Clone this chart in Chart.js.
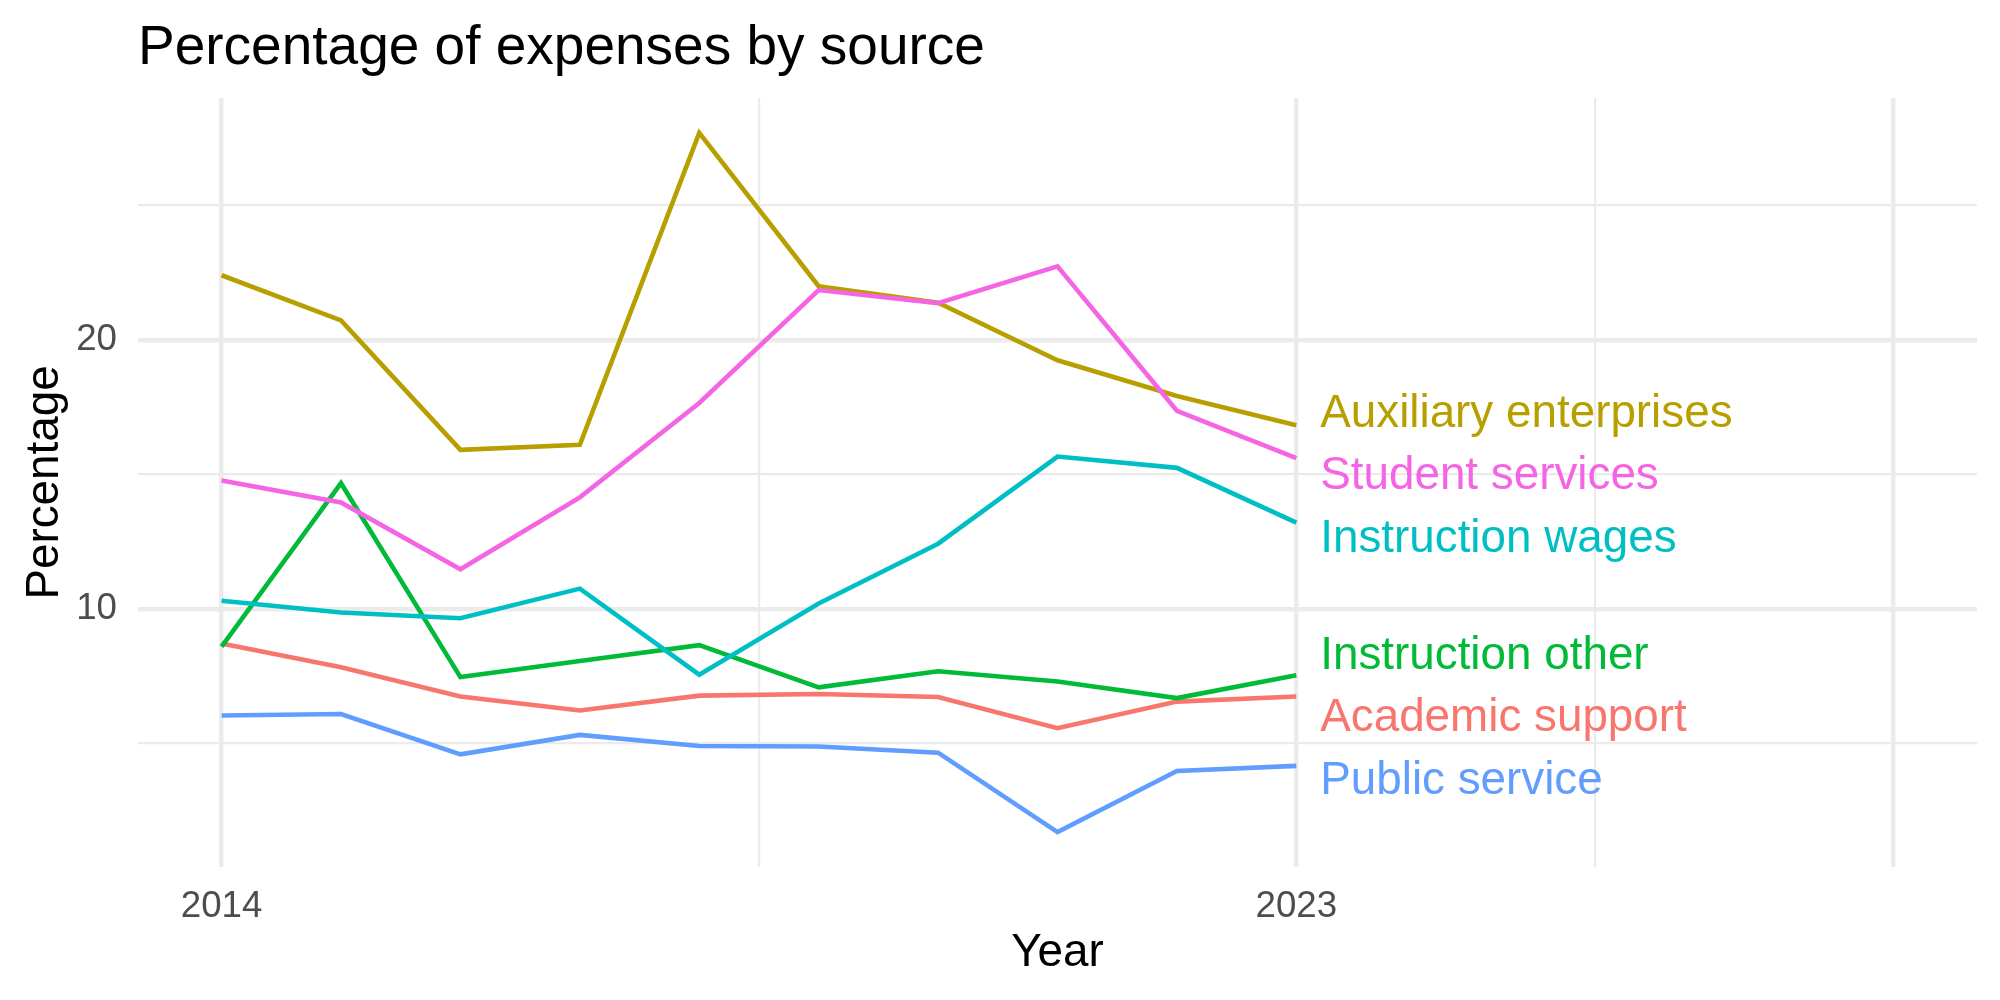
<!DOCTYPE html>
<html>
<head>
<meta charset="utf-8">
<script src="https://cdn.jsdelivr.net/npm/chart.js@4/dist/chart.umd.min.js"></script>
<style>
  html, body { margin: 0; padding: 0; background: #ffffff; }
  #wrap { width: 2000px; height: 1000px; }
</style>
</head>
<body>
<div id="wrap"><canvas id="c" width="2000" height="1000"></canvas></div>
<script>
// ---- data ----
const chartTitle = "Percentage of expenses by source";
const xTitle = "Year";
const yTitle = "Percentage";
const years = [2014, 2015, 2016, 2017, 2018, 2019, 2020, 2021, 2022, 2023];
const seriesNames = ["Academic support", "Auxiliary enterprises", "Instruction other", "Instruction wages", "Public service", "Student services"];
const seriesColors = ["#F8766D", "#B79F00", "#00BA38", "#00BFC4", "#619CFF", "#F564E3"];
const academicSupport      = [8.71, 7.83, 6.74, 6.22, 6.77, 6.83, 6.72, 5.56, 6.55, 6.74];
const auxiliaryEnterprises = [22.40, 20.72, 15.91, 16.10, 27.69, 21.99, 21.38, 19.24, 17.91, 16.82];
const instructionOther     = [8.59, 14.67, 7.46, 8.06, 8.65, 7.08, 7.68, 7.30, 6.68, 7.53];
const instructionWages     = [10.30, 9.86, 9.65, 10.75, 7.55, 10.20, 12.42, 15.66, 15.24, 13.20];
const publicService        = [6.03, 6.09, 4.59, 5.31, 4.90, 4.88, 4.65, 1.70, 3.97, 4.16];
const studentServices      = [14.77, 13.95, 11.47, 14.14, 17.65, 21.85, 21.36, 22.73, 17.36, 15.60];
const seriesValues = [academicSupport, auxiliaryEnterprises, instructionOther, instructionWages, publicService, studentServices];

// end-of-line label positions (data units, vertical centre of capitals)
const labelX = 2023.2;
const labelY = [6.06, 17.38, 8.38, 12.71, 3.71, 15.06];

// axis ticks
const xTickValues = [2014, 2018.5, 2023, 2025.5, 2028];
const xTickLabels = ["2014", "", "2023", "", ""];
const xMajor      = [true, false, true, false, true];
const yTickValues = [5, 10, 15, 20, 25];
const yTickLabels = ["", "10", "", "20", ""];
const yMajor      = [false, true, false, true, false];
const xMin = 2013.3, xMax = 2028.7;

// y limits with ggplot-like 5% expansion
const allVals = seriesValues.flat();
const dMin = Math.min(...allVals), dMax = Math.max(...allVals);
const yMin = dMin - 0.05 * (dMax - dMin);
const yMax = dMax + 0.05 * (dMax - dMin);

const FONT = '"Liberation Sans", Arial, Helvetica, sans-serif';
const GRID = '#EBEBEB';
const LABEL_SIZE = 45.8;

const datasets = seriesNames.map((name, i) => ({
  label: name,
  data: years.map((yr, j) => ({ x: yr, y: seriesValues[i][j] })),
  borderColor: seriesColors[i],
  backgroundColor: seriesColors[i],
  borderWidth: 4.6,
  pointRadius: 0,
  tension: 0,
  fill: false,
  order: seriesNames.length - i
}));

const textPlugin = {
  id: 'textPlugin',
  afterDatasetsDraw(chart) {
    const { ctx, chartArea, scales: { x, y } } = chart;
    ctx.save();
    ctx.font = LABEL_SIZE + 'px ' + FONT;
    ctx.textAlign = 'left';
    ctx.textBaseline = 'alphabetic';
    seriesNames.forEach((n, i) => {
      ctx.fillStyle = seriesColors[i];
      ctx.fillText(n, x.getPixelForValue(labelX), y.getPixelForValue(labelY[i]) + 0.358 * LABEL_SIZE);
    });
    ctx.font = '55px ' + FONT;
    ctx.fillStyle = '#000000';
    ctx.fillText(chartTitle, chartArea.left, 63.5);
    ctx.restore();
  }
};

new Chart(document.getElementById('c'), {
  type: 'line',
  data: { datasets },
  options: {
    responsive: false,
    animation: false,
    devicePixelRatio: 1,
    layout: { padding: { top: 98, right: 23, left: 0, bottom: 0 } },
    plugins: { legend: { display: false }, tooltip: { enabled: false }, title: { display: false } },
    scales: {
      x: {
        type: 'linear',
        min: xMin, max: xMax,
        afterBuildTicks: (s) => { s.ticks = xTickValues.map(v => ({ value: v })); },
        afterFit: (s) => { s.height = 133; },
        ticks: {
          autoSkip: false, maxRotation: 0, minRotation: 0,
          padding: 17.5,
          color: '#4D4D4D',
          font: { family: FONT, size: 36.7 },
          callback: (v, idx) => xTickLabels[idx]
        },
        grid: {
          drawTicks: false,
          color: GRID,
          lineWidth: (c) => (c.index !== undefined && xMajor[c.index]) ? 4.4 : 2.2
        },
        border: { display: false },
        title: {
          display: true, text: xTitle, color: '#000000',
          font: { family: FONT, size: 45.8 },
          padding: { top: 0, bottom: 19 }
        }
      },
      y: {
        type: 'linear',
        min: yMin, max: yMax,
        afterBuildTicks: (s) => { s.ticks = yTickValues.map(v => ({ value: v })); },
        afterFit: (s) => { s.width = 138; },
        ticks: {
          autoSkip: false,
          padding: 21,
          color: '#4D4D4D',
          font: { family: FONT, size: 36.7 },
          callback: (v, idx) => yTickLabels[idx]
        },
        grid: {
          drawTicks: false,
          color: GRID,
          lineWidth: (c) => (c.index !== undefined && yMajor[c.index]) ? 4.4 : 2.2
        },
        border: { display: false },
        title: {
          display: true, text: yTitle, color: '#000000',
          font: { family: FONT, size: 45.8 },
          padding: { top: 17.5, bottom: 0 }
        }
      }
    }
  },
  plugins: [textPlugin]
});
</script>
</body>
</html>
